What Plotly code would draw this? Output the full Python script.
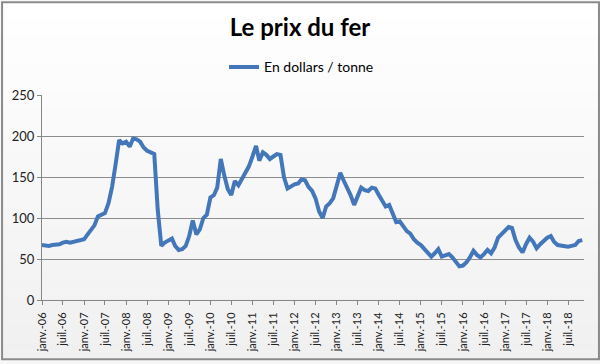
import pandas as pd
import plotly.graph_objects as go

# Monthly iron ore price, USD / tonne, Jan 2006 - Nov 2018
prices_2006 = [67, 66, 66, 67, 67, 68, 70, 71, 70, 71, 72, 73]
prices_2007 = [74, 80, 86, 91, 102, 104, 106, 118, 138, 165, 195, 191]
prices_2008 = [193, 187, 197, 196, 193, 186, 182, 180, 178, 110, 66, 70]
prices_2009 = [73, 75, 66, 61, 62, 66, 78, 97, 80, 86, 100, 104]
prices_2010 = [125, 128, 137, 172, 152, 135, 128, 145, 140, 148, 155, 163]
prices_2011 = [175, 188, 170, 180, 177, 172, 175, 178, 177, 150, 136, 139]
prices_2012 = [141, 142, 147, 146, 138, 133, 124, 108, 100, 114, 118, 124]
prices_2013 = [138, 155, 146, 138, 128, 116, 128, 137, 134, 133, 137, 136]
prices_2014 = [128, 120, 114, 116, 104, 95, 96, 90, 84, 81, 74, 70]
prices_2015 = [67, 62, 58, 53, 57, 62, 53, 55, 56, 52, 47, 41]
prices_2016 = [42, 46, 52, 60, 55, 52, 56, 61, 57, 64, 76, 80]
prices_2017 = [84, 89, 88, 73, 64, 58, 68, 76, 71, 63, 68, 72]
prices_2018 = [76, 78, 71, 67, 66, 65, 65, 66, 67, 72, 73]

values = (prices_2006 + prices_2007 + prices_2008 + prices_2009 + prices_2010 +
          prices_2011 + prices_2012 + prices_2013 + prices_2014 + prices_2015 +
          prices_2016 + prices_2017 + prices_2018)
dates = pd.date_range(start="2006-01-01", periods=len(values), freq="MS")

tick_years = list(range(2006, 2019))
tick_dates = []
tick_labels = []
for y in tick_years:
    tick_dates.append(f"{y}-01-01")
    tick_labels.append(f"janv.-{y % 100:02d}")
    tick_dates.append(f"{y}-07-01")
    tick_labels.append(f"juil.-{y % 100:02d}")

series_name = "En dollars / tonne"
title_text = "Le prix du fer"

W, H = 600, 364
ML, MR, MT, MB = 41, 16, 95, 61
PW, PH = W - ML - MR, H - MT - MB


def px_x(p):
    return (p - ML) / PW


def px_y(p):
    return (H - MB - p) / PH


fig = go.Figure()
fig.add_trace(go.Scatter(
    x=dates, y=values, mode="lines", name=series_name,
    line=dict(color="#4377BA", width=4),
))

# background gradient bands (white -> light gray)
shapes = []
n = 40
for i in range(n):
    t = i / (n - 1)
    g = int(round(255 - t * (255 - 240)))
    top = i * H / n
    bot = (i + 1) * H / n
    shapes.append(dict(type="rect", xref="paper", yref="paper",
                       x0=px_x(0), x1=px_x(W), y0=px_y(bot), y1=px_y(top),
                       fillcolor=f"rgb({g},{g},{g})", line=dict(width=0), layer="below"))
# outer border
shapes.append(dict(type="rect", xref="paper", yref="paper",
                   x0=px_x(1), x1=px_x(W - 1), y0=px_y(H - 1), y1=px_y(1),
                   line=dict(color="#8a8a8a", width=2), fillcolor="rgba(0,0,0,0)",
                   layer="above"))

fig.update_layout(
    width=W, height=H,
    margin=dict(l=ML, r=MR, t=MT, b=MB),
    paper_bgcolor="#f7f7f7",
    plot_bgcolor="rgba(0,0,0,0)",
    font=dict(family="Lato, Arial, sans-serif", color="#222222"),
    title=dict(text=f"<b>{title_text}</b>", x=0.5, xanchor="center",
               y=1 - 28 / H, yanchor="middle",
               font=dict(size=24, color="#000000")),
    showlegend=True,
    legend=dict(orientation="h", x=px_x(301), xanchor="center", y=px_y(67), yanchor="middle",
                bgcolor="rgba(0,0,0,0)", font=dict(size=14, color="#000000"),
                itemwidth=30),
    shapes=shapes,
)

fig.update_xaxes(
    range=["2006-01-01", "2018-11-16"],
    tickvals=tick_dates, ticktext=tick_labels, tickangle=-90,
    tickfont=dict(size=11, color="#222222"),
    ticks="outside", ticklen=4, tickcolor="#868686", ticklabelstandoff=3,
    showline=True, linecolor="#868686", linewidth=1,
    showgrid=False, zeroline=False,
)
fig.update_yaxes(
    range=[0, 250], tickvals=[0, 50, 100, 150, 200, 250],
    tickfont=dict(size=13, color="#222222"),
    ticks="outside", ticklen=4, tickcolor="#868686",
    showline=True, linecolor="#868686", linewidth=1,
    showgrid=True, gridcolor="#8c8c8c", gridwidth=1, zeroline=False,
)

fig.write_html("out.html", config={"displayModeBar": False},
               post_script="document.body.style.margin='0';")
